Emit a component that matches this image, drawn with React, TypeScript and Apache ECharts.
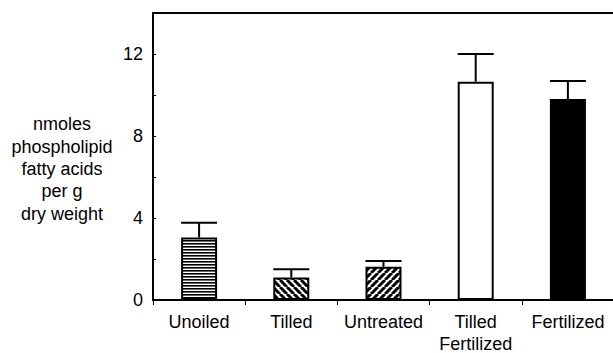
import React, { useEffect, useRef } from "react";
import * as echarts from "echarts";

const categories = ["Unoiled", "Tilled", "Untreated", "Tilled\nFertilized", "Fertilized"];
const means = [3.05, 1.1, 1.62, 10.65, 9.8];
const upperErrors = [3.77, 1.5, 1.9, 12.0, 10.68];
const yTickLabels = [0, 4, 8, 12];
const yTitle = ["nmoles", "phospholipid", "fatty acids", "per g", "dry weight"];
const fills = ["hstripe", "backslash", "slash", "white", "black"];

function makeTile(kind: string): HTMLCanvasElement {
  const c = document.createElement("canvas");
  if (kind === "hstripe") {
    c.width = 4;
    c.height = 3;
    const g = c.getContext("2d")!;
    g.fillStyle = "#fff";
    g.fillRect(0, 0, 4, 3);
    g.fillStyle = "#000";
    g.fillRect(0, 0, 4, 1);
    g.fillStyle = "#666";
    g.fillRect(0, 1, 4, 1);
    return c;
  }
  const s = 7;
  c.width = s;
  c.height = s;
  const g = c.getContext("2d")!;
  g.fillStyle = "#fff";
  g.fillRect(0, 0, s, s);
  g.strokeStyle = "#000";
  g.lineWidth = 3;
  for (let k = -1; k <= 1; k++) {
    g.beginPath();
    if (kind === "slash") {
      g.moveTo(k * s, s);
      g.lineTo(k * s + s, 0);
    } else {
      g.moveTo(k * s, 0);
      g.lineTo(k * s + s, s);
    }
    g.stroke();
  }
  return c;
}

const FONT = "'Liberation Sans', Arial, Helvetica, sans-serif";

export default function App() {
  const ref = useRef<HTMLDivElement>(null);
  useEffect(() => {
    if (!ref.current) return;
    const chart = echarts.init(ref.current, null, { renderer: "svg" });
    const barData = means.map((v, i) => {
      const f = fills[i];
      let color: any;
      if (f === "white") color = "#fff";
      else if (f === "black") color = "#000";
      else color = { image: makeTile(f), repeat: "repeat" };
      return {
        value: v,
        itemStyle: { color, borderColor: "#000", borderWidth: 2 },
      };
    });
    const errData = means.map((v, i) => [i, v, upperErrors[i]]);
    chart.setOption({
      animation: false,
      grid: {
        left: 153,
        top: 13,
        right: -1,
        bottom: 53,
        outerBoundsMode: "none",
        containLabel: false,
        show: true,
        borderColor: "#000",
        borderWidth: 2,
        backgroundColor: "transparent",
      },
      graphic: [
        {
          type: "text",
          x: 62,
          y: 169,
          style: {
            text: yTitle.join("\n"),
            fontSize: 18,
            fontFamily: FONT,
            fill: "#000",
            align: "center",
            verticalAlign: "middle",
            lineHeight: 22.3,
          },
        },
      ],
      xAxis: {
        type: "category",
        data: categories,
        axisLine: { lineStyle: { color: "#000", width: 2 } },
        axisTick: { show: true, length: 5, lineStyle: { color: "#000", width: 1 } },
        axisLabel: {
          color: "#000",
          fontSize: 18,
          fontFamily: FONT,
          margin: 11,
          lineHeight: 22,
          interval: 0,
        },
      },
      yAxis: {
        type: "value",
        min: 0,
        max: 14,
        interval: 2,
        splitLine: { show: false },
        axisLine: { show: true, lineStyle: { color: "#000", width: 1.5 } },
        axisTick: { show: true, inside: true, length: 3, lineStyle: { color: "#000" } },
        axisLabel: {
          color: "#000",
          fontSize: 18,
          fontFamily: FONT,
          margin: 10,
          formatter: (v: number) => (yTickLabels.indexOf(v) >= 0 ? String(v) : ""),
        },
      },
      series: [
        {
          type: "bar",
          data: barData,
          barWidth: 36,
          z: 2,
        },
        {
          type: "custom",
          data: errData,
          z: 3,
          renderItem: (params: any, api: any) => {
            const x = api.value(0);
            const top = api.coord([x, api.value(2)]);
            const base = api.coord([x, api.value(1)]);
            const half = 18;
            const style = { stroke: "#000", lineWidth: 2 };
            return {
              type: "group",
              children: [
                { type: "line", shape: { x1: top[0], y1: top[1], x2: base[0], y2: base[1] }, style },
                { type: "line", shape: { x1: top[0] - half, y1: top[1], x2: top[0] + half, y2: top[1] }, style },
              ],
            };
          },
        },
      ],
    });
    return () => chart.dispose();
  }, []);
  return (
    <div
      ref={ref}
      style={{ position: "fixed", left: 0, top: 0, width: 613, height: 353, background: "#fff" }}
    />
  );
}
